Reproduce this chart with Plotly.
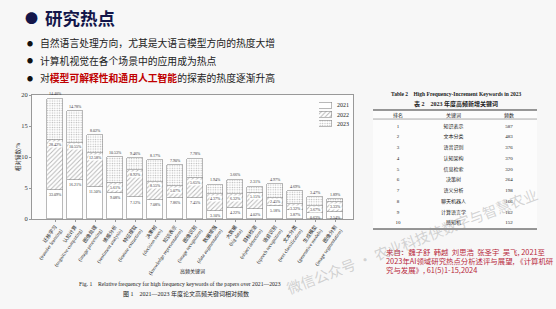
import plotly.graph_objects as go

W, H = 556, 309
def px(x): return x / W
def py(y): return 1 - y / H

# ---------------- data ----------------
cats_cn = ["迁移学习", "认知计算", "图像处理", "情感分析", "特征提取", "决策树", "知识表示",
           "图像识别", "数据增强", "大数据", "目标检测", "语音识别", "文本分类", "生成模型", "图像分割"]
cats_en = ["transfer learning", "cognitive computing", "image processing", "sentiment analysis",
           "feature extraction", "decision trees", "knowledge representation", "image recognition",
           "data augmentation", "big data", "object detection", "speech recognition",
           "text classification", "generative models", "image segmentation"]
years = ["2021", "2022", "2023"]
v2021 = [4.7, 6.3, 5.2, 4.2, 3.5, 3.1, 3.4, 3.4, 1.3, 1.8, 1.6, 2.1, 1.5, 1.0, 1.1]
v2022 = [8.0, 6.0, 5.4, 1.6, 4.4, 2.9, 1.9, 3.2, 2.7, 2.2, 2.6, 1.3, 0.9, 1.1, 1.6]
v2023 = [6.7, 5.1, 2.9, 4.2, 1.9, 3.5, 3.4, 3.1, 1.5, 2.3, 1.0, 2.2, 2.1, 1.4, 0.5]
t2021 = ["33.09%", "16.21%", "11.50%", "9.08%", "7.12%", "7.08%", "7.86%", "7.45%",
         "3.10%", "4.22%", "4.02%", "5.18%", "3.87%", "0.63%", "2.54%"]
t2022 = ["28.42%", "10.55%", "12.58%", "5.61%", "8.92%", "8.55%", "5.07%", "5.65%",
         "4.37%", "6.32%", "5.15%", "2.45%", "3.32%", "3.67%", "3.33%"]
t2023 = ["14.40%", "14.78%", "8.02%", "10.53%", "9.46%", "8.17%", "7.90%", "7.78%",
         "1.94%", "3.66%", "2.31%", "4.97%", "4.69%", "3.47%", "1.89%"]
y_ticks = [0, 5, 10, 15, 20]

tbl_header = ["排名", "关键词", "频数"]
tbl_rank = [1, 2, 3, 4, 5, 6, 7, 8, 9, 10]
tbl_kw = ["知识表示", "文本分类", "语音识别", "认知架构", "信息检索", "决策树", "语义分析",
          "聊天机器人", "计算语言学", "感知机"]
tbl_freq = [587, 483, 376, 370, 320, 264, 198, 166, 162, 152]

title_text = "研究热点"
bullets = [
    "自然语言处理方向，尤其是大语言模型方向的热度大增",
    "计算机视觉在各个场景中的应用成为热点",
    "对<b><span style='color:#c00000'>模型可解释性和通用人工智能</span></b>的探索的热度逐渐升高",
]
cite_lines = [
    "来自：魏子舒  韩越  刘思浩  张圣宇  吴飞, 2021至",
    "2023年AI领域研究热点分析述评与展望, 《计算机研",
    "究与发展》, 61(5)1-15,2024",
]
cap_en = "Fig. 1    Relative frequency for high frequency keywords of the papers over 2021—2023"
cap_cn = "图 1    2021—2023 年度论文高频关键词相对频数"
tbl_title_en = "Table 2    High Frequency-Increment Keywords in 2023"
tbl_title_cn = "表 2    2023 年度高频新增关键词"
watermark = "微信公众号 · 农业科技侠数字与智慧农业"

SERIF = "Liberation Serif, Noto Sans CJK SC"
SANS = "Noto Sans CJK SC"

xs = list(range(len(cats_cn)))
ticktext = [f"{c}<br>({e})" for c, e in zip(cats_cn, cats_en)]
pat_shapes = ["", "/", "."]
pat_sizes = [3, 3.2, 2.4]
pat_solid = [0.3, 0.3, 0.25]
leg_rows = list(range(len(years)))

fig = go.Figure()
line_style = dict(color="#8a8a8a", width=0.6)
def pat(shape, size, solid):
    return dict(shape=shape, fgcolor="#707070", bgcolor="white", size=size, solidity=solid)

for yr, vals, shp, sz, so in zip(years, [v2021, v2022, v2023], pat_shapes, pat_sizes, pat_solid):
    fig.add_trace(go.Bar(x=xs, y=vals, name=yr, width=0.8, showlegend=False,
                         marker=dict(color="white", line=line_style, pattern=pat(shp, sz, so))))

# legend drawn as a tiny horizontal bar chart on its own axes
for r, shp, sz, so in zip(leg_rows, pat_shapes, pat_sizes, pat_solid):
    fig.add_trace(go.Bar(x=[1], y=[r], orientation="h", width=0.62, showlegend=False,
                         xaxis="x3", yaxis="y3", hoverinfo="skip",
                         marker=dict(color="white", line=line_style, pattern=pat(shp, sz, so))))

ann = []
lab_font = dict(size=4, family=SERIF, color="#333")
for i in xs:
    b1 = v2021[i]
    b2 = v2021[i] + v2022[i]
    b3 = b2 + v2023[i]
    ann.append(dict(x=i, y=b1, xref="x", yref="y", text=t2021[i], showarrow=False,
                    xanchor="center", yanchor="top", yshift=-0.5, font=lab_font))
    ann.append(dict(x=i, y=b2, xref="x", yref="y", text=t2022[i], showarrow=False,
                    xanchor="center", yanchor="top", yshift=-0.5, bgcolor="white", borderpad=0,
                    font=lab_font))
    ann.append(dict(x=i, y=b3, xref="x", yref="y", text=t2023[i], showarrow=False,
                    xanchor="center", yanchor="bottom", yshift=0.5, font=lab_font))
for r, yr in zip(leg_rows, years):
    ann.append(dict(x=1.2, y=r, xref="x3 domain", yref="y3", text=yr, showarrow=False,
                    xanchor="left", yanchor="middle", align="left",
                    font=dict(size=6, family=SERIF, color="#222")))

# table via text traces on second axes
tfont = dict(size=5, family=SERIF, color="#222")
fig.add_trace(go.Scatter(x=[0, 1, 2], y=[0, 0, 0], text=tbl_header, mode="text",
                         xaxis="x2", yaxis="y2", showlegend=False, hoverinfo="skip", textfont=tfont))
fig.add_trace(go.Scatter(x=[0] * len(tbl_rank), y=tbl_rank, text=[str(r) for r in tbl_rank],
                         mode="text", xaxis="x2", yaxis="y2", showlegend=False, hoverinfo="skip",
                         textfont=tfont))
fig.add_trace(go.Scatter(x=[1] * len(tbl_kw), y=tbl_rank, text=tbl_kw,
                         mode="text", xaxis="x2", yaxis="y2", showlegend=False, hoverinfo="skip",
                         textfont=tfont))
fig.add_trace(go.Scatter(x=[2] * len(tbl_freq), y=tbl_rank, text=[str(f) for f in tbl_freq],
                         mode="text", xaxis="x2", yaxis="y2", showlegend=False, hoverinfo="skip",
                         textfont=tfont))

shapes = [
    dict(type="line", xref="x2 domain", yref="y2 domain", x0=0, x1=1, y0=1, y1=1,
         line=dict(color="#333", width=1)),
    dict(type="line", xref="x2 domain", yref="y2", x0=0, x1=1, y0=0.33, y1=0.33,
         line=dict(color="#555", width=0.5)),
    dict(type="line", xref="x2 domain", yref="y2 domain", x0=0, x1=1, y0=0, y1=0,
         line=dict(color="#333", width=1)),
]

def txt(x, y, text, size, family=SANS, color="#222", xanchor="left", angle=0):
    return dict(x=px(x), y=py(y), xref="paper", yref="paper", text=text, showarrow=False,
                xanchor=xanchor, yanchor="middle", align=xanchor if xanchor != "center" else "center",
                textangle=angle, font=dict(size=size, family=family, color=color))

# slide texts
ann.append(txt(31, 18, "●", 13, color="#14164a", xanchor="center"))
ann.append(txt(43, 18, "<b>" + title_text + "</b>", 17.5, color="#14164a"))
for t, yy in zip(bullets, [43, 61, 78]):
    ann.append(txt(30, yy, "●", 6, color="#111", xanchor="center"))
    ann.append(txt(38, yy, t, 9.8, color="#222"))
for t, yy in zip(cite_lines, [251, 260.5, 269.5]):
    ann.append(txt(384, yy, t, 7.4, color="#b8283c"))
ann.append(txt(77, 284, cap_en, 5.7, family=SERIF))
ann.append(txt(121, 294, cap_cn, 6, family=SERIF))
ann.append(txt(456, 94, "<b>" + tbl_title_en + "</b>", 5.5, family=SERIF, xanchor="center"))
ann.append(txt(456, 104, "<b>" + tbl_title_cn + "</b>", 6, family=SERIF, xanchor="center"))
ann.append(txt(192, 271, "高频关键词", 5, family=SERIF, xanchor="center"))
ann.append(txt(18, 157, "相对频数/%", 5.5, family=SERIF, xanchor="center", angle=-90))
ann.append(txt(412, 240, watermark, 14.5, color="rgba(150,150,150,0.4)", xanchor="center", angle=-21))

fig.update_layout(
    width=W, height=H, margin=dict(l=0, r=0, t=0, b=0),
    paper_bgcolor="#f7f7f7", plot_bgcolor="#fcfcfc",
    barmode="stack", bargap=0, showlegend=False,
    xaxis=dict(domain=[px(32), px(353)], range=[-1.15, 14.9], tickvals=xs, ticktext=ticktext,
               tickangle=-55, tickfont=dict(size=5, family=SERIF, color="#222"),
               showline=True, mirror=True, linecolor="#999", linewidth=0.8,
               ticks="outside", ticklen=2, tickcolor="#999", showgrid=False,
               automargin=False, zeroline=False),
    yaxis=dict(domain=[py(219), py(95)], range=[0, 20], tickvals=y_ticks,
               tickfont=dict(size=6.5, family=SERIF, color="#333"),
               showline=True, mirror=True, linecolor="#999", linewidth=0.8,
               ticks="outside", ticklen=2, tickcolor="#999", showgrid=False,
               automargin=False, zeroline=False),
    xaxis2=dict(domain=[px(373), px(537)], range=[-0.45, 2.505], visible=False, anchor="y2"),
    yaxis2=dict(domain=[py(229), py(110)], range=[10.558, -0.512], visible=False, anchor="x2"),
    xaxis3=dict(domain=[px(319), px(332)], range=[0, 1], visible=False, anchor="y3"),
    yaxis3=dict(domain=[py(128.5), py(100.5)], range=[2.5, -0.5], visible=False, anchor="x3"),
    annotations=ann, shapes=shapes,
)

fig.write_html("out.html")
